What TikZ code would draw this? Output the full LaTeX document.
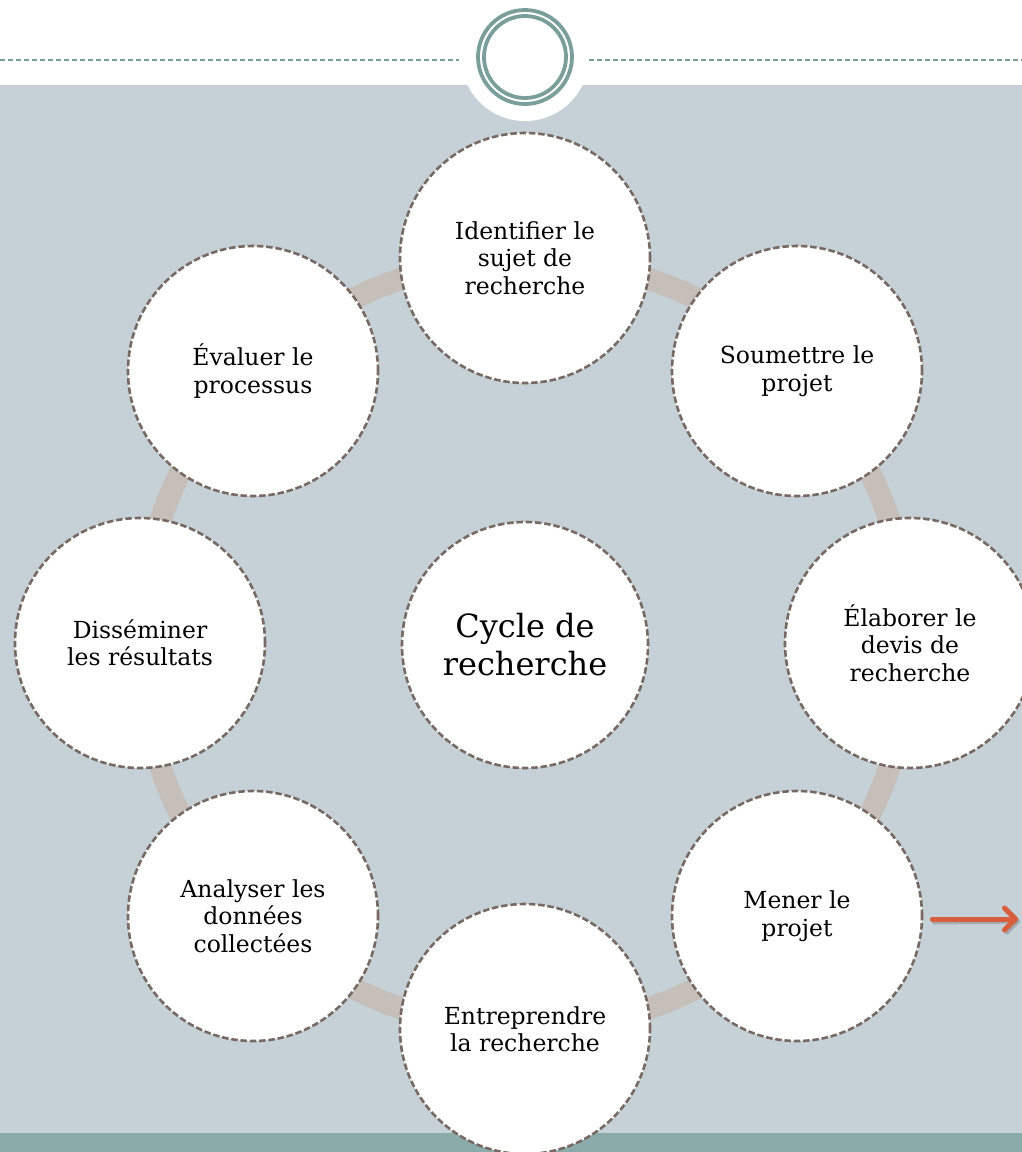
\documentclass[tikz,border=0pt]{standalone}
\usepackage{fontspec}
\setmainfont{DejaVu Serif}
\usetikzlibrary{arrows.meta}
\definecolor{bggray}{RGB}{197,209,215}
\definecolor{band}{RGB}{138,171,170}
\definecolor{teal}{RGB}{122,158,153}
\definecolor{conncol}{RGB}{198,190,185}
\definecolor{dashcol}{RGB}{120,106,98}
\definecolor{arrowcol}{RGB}{216,94,62}
\pgfdeclarelayer{back}
\pgfdeclarelayer{mid}
\pgfsetlayers{back,mid,main}
\tikzset{
  phase/.style={circle, draw=dashcol, fill=white, line width=2.6pt,
    dash pattern=on 6.5pt off 2.8pt, minimum size=250pt, inner sep=0pt,
    align=center, text=black, font=\fontsize{23.5}{27.5}\selectfont},
  hub/.style={phase, minimum size=246pt, font=\fontsize{32}{38}\selectfont},
  ring/.style={draw=conncol, line width=22pt},
  topdash/.style={draw=teal, line width=1.5pt, dash pattern=on 5pt off 3pt},
  emring/.style={draw=teal, line width=3.8pt},
  redarrow/.style={draw=arrowcol, line width=5pt, line cap=round, line join=round,
    -{Straight Barb[length=11pt,width=22pt,line cap=round,line join=round]}},
}
\begin{document}
\begin{tikzpicture}[x=1pt,y=-1pt]
\useasboundingbox (0,0) rectangle (1022,1152);
\begin{pgfonlayer}{back}
  \fill[white] (0,0) rectangle (1022,1152);
  \fill[bggray] (0,85) rectangle (1022,1133);
  \fill[band] (0,1133) rectangle (1022,1152);
  \fill[white] (525,57) circle[radius=64];
  \draw[topdash] (0,60) -- (459,60);
  \draw[topdash] (589,60) -- (1022,60);
\end{pgfonlayer}
% emblem
\draw[emring] (525,57) circle[radius=47];
\draw[emring] (525,57) circle[radius=41];
% nodes
\node[hub] (hub) at (525,645) {Cycle de\\recherche};
\node[phase] (identifier) at (525,258) {Identifier le\\sujet de\\recherche};
\node[phase] (soumettre) at (797,371) {Soumettre le\\projet};
\node[phase] (elaborer) at (910,643) {Élaborer le\\devis de\\recherche};
\node[phase] (mener) at (797,916) {Mener le\\projet};
\node[phase] (entreprendre) at (525,1029) {Entreprendre\\la recherche};
\node[phase] (analyser) at (253,916) {Analyser les\\données\\collectées};
\node[phase] (disseminer) at (140,643) {Disséminer\\les résultats};
\node[phase] (evaluer) at (253,371) {Évaluer le\\processus};
% connectors
\begin{pgfonlayer}{mid}
  \foreach \a/\b in {identifier/soumettre, soumettre/elaborer, elaborer/mener,
      mener/entreprendre, entreprendre/analyser, analyser/disseminer,
      disseminer/evaluer, evaluer/identifier}{
    \draw[ring] (\a.center) to[bend left=22.5, looseness=0.884] (\b.center);
  }
\end{pgfonlayer}
% arrow
\coordinate (arrowEnd) at (1018,919);
\draw[redarrow, draw=black, opacity=0.18] ([shift={(11,6)}]mener.east) -- ([shift={(2,2)}]arrowEnd);
\draw[redarrow] ([shift={(9,3)}]mener.east) -- (arrowEnd);
\end{tikzpicture}
\end{document}
